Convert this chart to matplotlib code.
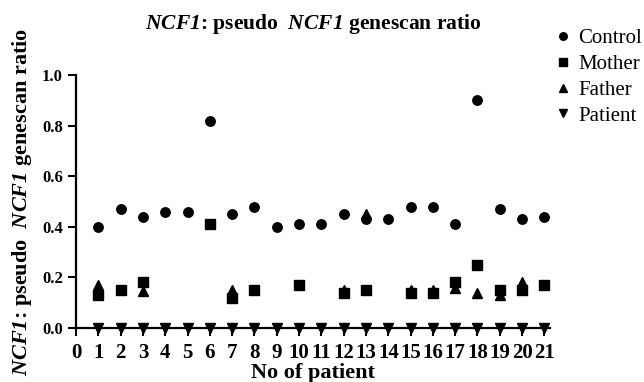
import matplotlib
matplotlib.use("Agg")
import matplotlib.pyplot as plt

plt.rcParams["font.family"] = ["Liberation Serif", "DejaVu Serif"]
plt.rcParams["mathtext.fontset"] = "custom"
# gene name is italic bold, including the digit
plt.rcParams["mathtext.rm"] = "Liberation Serif:italic:bold"
plt.rcParams["mathtext.it"] = "Liberation Serif:italic:bold"
plt.rcParams["mathtext.bf"] = "Liberation Serif:italic:bold"

# patient numbers on the x axis
patients = list(range(1, 22))
control = [0.40, 0.47, 0.44, 0.46, 0.46, 0.82, 0.45, 0.48, 0.40, 0.41, 0.41,
           0.45, 0.43, 0.43, 0.48, 0.48, 0.41, 0.90, 0.47, 0.43, 0.44]

mother_x = [1, 2, 3, 6, 7, 8, 10, 12, 13, 15, 16, 17, 18, 19, 20, 21]
mother = [0.13, 0.15, 0.18, 0.41, 0.12, 0.15, 0.17, 0.14, 0.15, 0.14, 0.14,
          0.18, 0.25, 0.15, 0.15, 0.17]

father_x = [1, 3, 7, 12, 13, 15, 16, 17, 18, 19, 20]
father = [0.17, 0.145, 0.15, 0.15, 0.45, 0.15, 0.15, 0.16, 0.14, 0.13, 0.18]

patient = [0.0] * 21

xticks = list(range(0, 22))
yticks = [0.0, 0.2, 0.4, 0.6, 0.8, 1.0]

TITLE = r"$NCF1$: pseudo  $NCF1$ genescan ratio"

STYLES = {
    "Control": {"marker": "o", "markersize": 6.8},
    "Mother": {"marker": "s", "markersize": 6.6},
    "Father": {"marker": "^", "markersize": 7.0},
    "Patient": {"marker": "v", "markersize": 7.0},
}

fig = plt.figure(figsize=(6.44, 3.82), dpi=100)
ax = fig.add_axes([0.118, 0.1414, 0.736, 0.6623])

series = [("Control", patients, control), ("Mother", mother_x, mother),
          ("Father", father_x, father), ("Patient", patients, patient)]
for name, xs, ys in series:
    ax.plot(xs, ys, linestyle="none", color="black", label=name,
            clip_on=False, **STYLES[name])

ax.set_xlim(0, 21.25)
ax.set_ylim(0, 1.0)
ax.set_xticks(xticks)
ax.set_yticks(yticks)
ax.set_yticklabels([f"{v:.1f}" for v in yticks])

for s in ["top", "right"]:
    ax.spines[s].set_visible(False)
for s in ["left", "bottom"]:
    ax.spines[s].set_linewidth(1.6)
ax.tick_params(direction="out", length=6, width=1.5)
ax.tick_params(axis="x", pad=5)
ax.tick_params(axis="y", pad=3.5)
for lab in ax.get_xticklabels():
    lab.set_fontsize(15)
    lab.set_fontweight("bold")
for lab in ax.get_yticklabels():
    lab.set_fontsize(12)
    lab.set_fontweight("bold")

ax.set_xlabel("No of patient", fontsize=16, fontweight="bold", labelpad=0)
ax.set_ylabel(TITLE, fontsize=16, fontweight="bold", labelpad=6)
ax.set_title(TITLE, fontsize=15.5, fontweight="bold", pad=33)

ax.legend(loc="upper left", bbox_to_anchor=(0.865, 0.925),
          bbox_transform=fig.transFigure, frameon=False, fontsize=15,
          markerscale=0.8, handlelength=0.6, handletextpad=0.4,
          labelspacing=0.3, borderaxespad=0, borderpad=0)

fig.savefig("out.png", dpi=100)
